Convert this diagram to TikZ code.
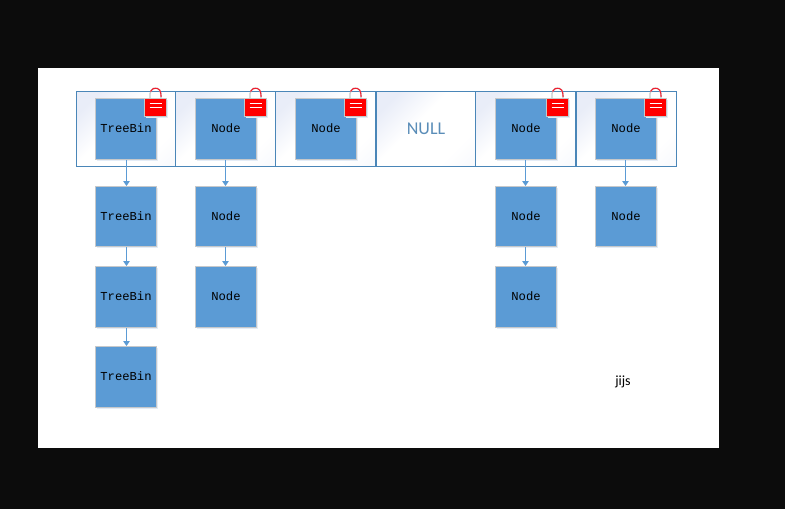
\documentclass[tikz,border=0pt]{standalone}
\usepackage{fontspec}
\setmainfont{Carlito}
\newfontfamily\boxmono{Liberation Mono}
\usetikzlibrary{arrows.meta,shadows}
\definecolor{frameblack}{HTML}{0C0C0C}
\definecolor{boxblue}{HTML}{5B9BD5}
\definecolor{cellline}{HTML}{4A86B8}
\definecolor{boxedge}{HTML}{C6C8CA}
\definecolor{softshadow}{HTML}{E4ECF6}
\definecolor{cellshade}{HTML}{E9EDF8}
\definecolor{cellfade}{HTML}{F5F7FC}
\definecolor{nulltext}{HTML}{5A8DB8}
\definecolor{lockline}{HTML}{F02030}
\pgfdeclarehorizontalshading{cellglow}{100bp}{color(0bp)=(cellshade); color(24bp)=(cellshade); color(44bp)=(white); color(70bp)=(white); color(90bp)=(cellfade); color(100bp)=(cellfade)}
\tikzset{
  cellbox/.style={draw=cellline,line width=1pt,minimum height=75pt,inner sep=0pt,
    shading=cellglow,shading angle=-45},
  listbox/.style={draw=boxedge,line width=1pt,fill=boxblue,minimum width=61pt,minimum height=61pt,inner sep=0pt,
    font=\boxmono\fontsize{12.2}{14}\selectfont,text=black,text depth=0pt,
    copy shadow={draw=none,fill=softshadow,shadow xshift=1pt,shadow yshift=-1.5pt}},
  lockbox/.style={draw=boxedge,line width=1pt,fill=red,minimum width=22pt,minimum height=18pt,inner sep=0pt,
    copy shadow={draw=none,fill=softshadow,shadow xshift=1pt,shadow yshift=-1.5pt}},
  linkarrow/.style={draw=boxblue,line width=1pt,-{Triangle[length=5pt,width=6.5pt]}},
  shackle/.style={draw=lockline,line width=1.1pt},
  shackleedge/.style={draw=boxedge,line width=1.2pt},
  lockbar/.style={draw=white,line width=.8pt}
}
\begin{document}
\begin{tikzpicture}[x=1pt,y=-1pt]
\useasboundingbox (0,0) rectangle (785,509);
\fill[frameblack] (0,0) rectangle (785,509);
\fill[white] (38,68) rectangle (719,448);
% table cells
\node[cellbox,minimum width=99pt] (c1) at (126,129) {};
\node[cellbox,minimum width=100pt] (c2) at (225.5,129) {};
\node[cellbox,minimum width=100pt] (c3) at (325.5,129) {};
\node[cellbox,minimum width=99pt,text=nulltext,font=\fontsize{18}{20}\selectfont] (c4) at (426,129) {NULL};
\node[cellbox,minimum width=100pt] (c5) at (525.5,129) {};
\node[cellbox,minimum width=100pt] (c6) at (626.5,129) {};
% first row
\node[listbox] (a1) at (126,129) {\raisebox{1pt}{TreeBin}};
\node[listbox] (b1) at (226,129) {\raisebox{1pt}{Node}};
\node[listbox] (d1) at (326,129) {\raisebox{1pt}{Node}};
\node[listbox] (e1) at (526,129) {\raisebox{1pt}{Node}};
\node[listbox] (f1) at (626,129) {\raisebox{1pt}{Node}};
% lower rows
\node[listbox,minimum height=60pt] (a2) at (126,216.5) {\raisebox{1pt}{TreeBin}};
\node[listbox] (a3) at (126,297) {\raisebox{1pt}{TreeBin}};
\node[listbox] (a4) at (126,377) {\raisebox{1pt}{TreeBin}};
\node[listbox,minimum height=60pt] (b2) at (226,216.5) {\raisebox{1pt}{Node}};
\node[listbox] (b3) at (226,297) {\raisebox{1pt}{Node}};
\node[listbox,minimum height=60pt] (e2) at (526,216.5) {\raisebox{1pt}{Node}};
\node[listbox] (e3) at (526,297) {\raisebox{1pt}{Node}};
\node[listbox,minimum height=60pt] (f2) at (626,216.5) {\raisebox{1pt}{Node}};
% links
\draw[linkarrow] ([xshift=.5pt]a1.south) -- ([xshift=.5pt]a2.north);
\draw[linkarrow] ([xshift=.5pt]a2.south) -- ([xshift=.5pt]a3.north);
\draw[linkarrow] ([xshift=.5pt]a3.south) -- ([xshift=.5pt]a4.north);
\draw[linkarrow] ([xshift=-.5pt]b1.south) -- ([xshift=-.5pt]b2.north);
\draw[linkarrow] ([xshift=-.5pt]b2.south) -- ([xshift=-.5pt]b3.north);
\draw[linkarrow] ([xshift=-.5pt]e1.south) -- ([xshift=-.5pt]e2.north);
\draw[linkarrow] ([xshift=-.5pt]e2.south) -- ([xshift=-.5pt]e3.north);
\draw[linkarrow] ([xshift=-.5pt]f1.south) -- ([xshift=-.5pt]f2.north);
% locks
\foreach \n/\x in {la/155.5,lb/255.5,ld/355.5,le/557.5,lf/655.5}{
  \draw[shackleedge] (\x-5.5,98) -- (\x-5.5,93.5) arc[start angle=180,end angle=0,radius=5.5pt] -- (\x+5.5,98);
  \draw[shackle] (\x-5,91.5) arc[start angle=160,end angle=0,radius=5.3pt] -- (\x+5.6,97);
  \node[lockbox] (\n) at (\x,107.5) {};
  \draw[lockbar] ([xshift=-6pt,yshift=4pt]\n.center) -- ([xshift=6pt,yshift=4pt]\n.center);
  \draw[lockbar] ([xshift=-6pt]\n.center) -- ([xshift=6pt]\n.center);
}
\node[font=\fontsize{14}{16}\selectfont,text=black,inner sep=0pt] (note) at (623,382) {jijs};
\end{tikzpicture}
\end{document}
